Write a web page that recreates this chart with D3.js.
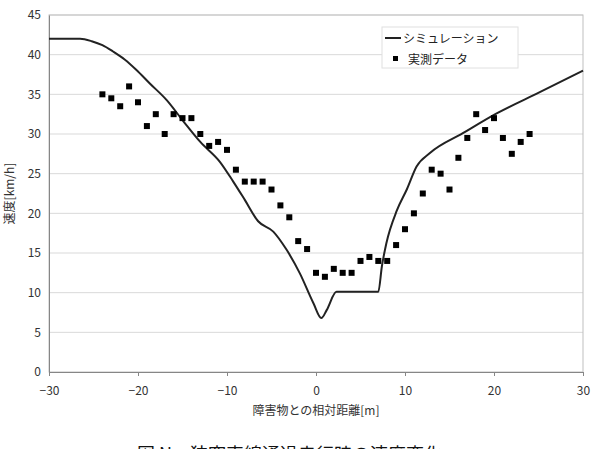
<!DOCTYPE html>
<html>
<head>
<meta charset="utf-8">
<script src="https://cdn.jsdelivr.net/npm/d3@7"></script>
<style>
  html, body { margin: 0; padding: 0; background: #fff; overflow: hidden; }
  text { font-family: "Noto Sans CJK JP", "Liberation Sans", sans-serif; }
</style>
</head>
<body>
<div id="chart"></div>
<script>
// measured data (実測データ)
const measuredX = [-24, -23, -22, -21, -20, -19, -18, -17, -16, -15, -14, -13, -12, -11, -10, -9, -8, -7, -6, -5,
  -4, -3, -2, -1, 0, 1, 2, 3, 4, 5, 6, 7, 8, 9, 10, 11, 12, 13, 14, 15, 16, 17, 18, 19, 20, 21, 22, 23, 24];
const measuredY = [35, 34.5, 33.5, 36, 34, 31, 32.5, 30, 32.5, 32, 32, 30, 28.5, 29, 28, 25.5, 24, 24, 24, 23,
  21, 19.5, 16.5, 15.5, 12.5, 12, 13, 12.5, 12.5, 14, 14.5, 14, 14, 16, 18, 20, 22.5, 25.5, 25, 23, 27, 29.5, 32.5, 30.5, 32, 29.5, 27.5, 29, 30];

// simulation (シミュレーション)
const simX = [-30, -26.5, -25.2, -24, -22.8, -21.5, -20.2, -18.7, -16.8, -14.9, -13, -10.8, -9.3, -8, -6.5, -4.8, -3.3, -1.8,
  -0.3, 0.6, 1.2, 2.3, 7, 7.4, 7.9, 9.1, 10.2, 11.3, 12.8, 16.5, 20.3, 25.2, 30];
const simY = [42, 42, 41.7, 41.2, 40.4, 39.4, 38.1, 36.4, 34.3, 31.6, 29, 26.5, 24, 21.7, 19, 17.7, 15.4, 12.4,
  8.7, 6.8, 7.8, 10.1, 10.1, 13.3, 16.2, 20.4, 23, 25.9, 27.6, 30.1, 32.6, 35.3, 38];

const xTicks = [-30, -20, -10, 0, 10, 20, 30];
const yTicks = [0, 5, 10, 15, 20, 25, 30, 35, 40, 45];
const legendLabels = ['シミュレーション', '実測データ'];

const width = 591, height = 449;
const margin = { left: 49, right: 8, top: 15, bottom: 77 };

const svg = d3.select('#chart')
  .append('svg')
  .attr('width', width)
  .attr('height', height);

const x = d3.scaleLinear().domain([-30, 30]).range([margin.left, width - margin.right]);
const y = d3.scaleLinear().domain([0, 45]).range([height - margin.bottom, margin.top]);

// gridlines
svg.append('g')
  .selectAll('line')
  .data(yTicks.filter(d => d > 0))
  .join('line')
  .attr('x1', x(-30))
  .attr('x2', x(30))
  .attr('y1', d => y(d))
  .attr('y2', d => y(d))
  .attr('stroke', '#d9d9d9')
  .attr('stroke-width', 1);

// plot border
svg.append('rect')
  .attr('x', x(-30))
  .attr('y', y(45))
  .attr('width', x(30) - x(-30))
  .attr('height', y(0) - y(45))
  .attr('fill', 'none')
  .attr('stroke', '#bfbfbf');

// x axis
const xAxis = svg.append('g')
  .attr('transform', `translate(0,${y(0)})`)
  .call(d3.axisBottom(x).tickValues(xTicks).tickSize(4).tickPadding(10)
    .tickFormat(d => d < 0 ? '\u2212' + Math.abs(d) : d));
xAxis.select('.domain').attr('stroke', '#868686');
xAxis.selectAll('.tick line').attr('stroke', '#868686');
xAxis.selectAll('text').attr('font-size', 12).attr('fill', '#333');

// y axis
const yAxis = svg.append('g')
  .attr('transform', `translate(${x(-30)},0)`)
  .call(d3.axisLeft(y).tickValues(yTicks).tickSize(0).tickPadding(8));
yAxis.select('.domain').attr('stroke', '#868686');
yAxis.selectAll('text').attr('font-size', 12).attr('fill', '#333');

// axis titles
svg.append('text')
  .attr('x', x(0))
  .attr('y', 415)
  .attr('text-anchor', 'middle')
  .attr('font-size', 12)
  .attr('fill', '#333')
  .text('障害物との相対距離[m]');

svg.append('text')
  .attr('transform', `translate(14,${y(22.5)}) rotate(-90)`)
  .attr('text-anchor', 'middle')
  .attr('font-size', 12)
  .attr('fill', '#333')
  .text('速度[km/h]');

// simulation line
const line = d3.line()
  .x((d, i) => x(simX[i]))
  .y((d, i) => y(simY[i]))
  .curve(d3.curveMonotoneX);

svg.append('path')
  .datum(simY)
  .attr('d', line)
  .attr('fill', 'none')
  .attr('stroke', '#222')
  .attr('stroke-width', 2);

// measured points
svg.append('g')
  .selectAll('rect')
  .data(measuredY)
  .join('rect')
  .attr('x', (d, i) => x(measuredX[i]) - 3)
  .attr('y', d => y(d) - 3)
  .attr('width', 6)
  .attr('height', 6)
  .attr('fill', '#000');

// legend
const legend = svg.append('g');
legend.append('rect')
  .attr('x', 382)
  .attr('y', 27)
  .attr('width', 136)
  .attr('height', 41)
  .attr('fill', '#fff')
  .attr('stroke', '#e0e0e0');
legend.append('line')
  .attr('x1', 385)
  .attr('x2', 401)
  .attr('y1', 38)
  .attr('y2', 38)
  .attr('stroke', '#222')
  .attr('stroke-width', 2);
legend.append('text')
  .attr('x', 403)
  .attr('y', 42.5)
  .attr('font-size', 12)
  .attr('fill', '#222')
  .text(legendLabels[0]);
legend.append('rect')
  .attr('x', 393)
  .attr('y', 56)
  .attr('width', 5)
  .attr('height', 5)
  .attr('fill', '#000');
legend.append('text')
  .attr('x', 408)
  .attr('y', 63.5)
  .attr('font-size', 12)
  .attr('fill', '#222')
  .text(legendLabels[1]);

// caption (cut off at the bottom edge, as in the source)
svg.append('text')
  .attr('x', 137)
  .attr('y', 461)
  .attr('font-size', 18)
  .attr('fill', '#111')
  .text('図 N　狭窄車線通過走行時の速度変化');
</script>
</body>
</html>
